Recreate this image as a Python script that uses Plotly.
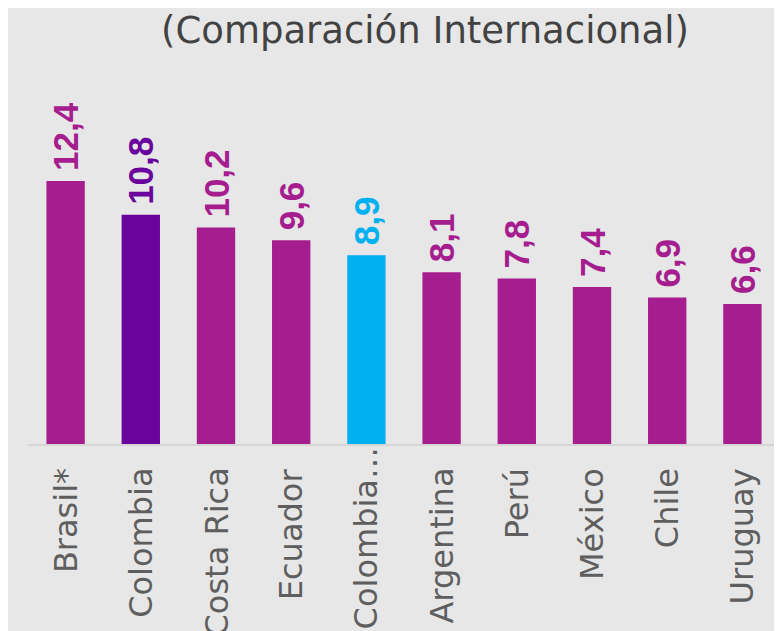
import plotly.graph_objects as go

categories = ["Brasil*", "Colombia", "Costa Rica", "Ecuador", "Colombia…",
              "Argentina", "Perú", "México", "Chile", "Uruguay"]
values = [12.4, 10.8, 10.2, 9.6, 8.9, 8.1, 7.8, 7.4, 6.9, 6.6]
labels = ["12,4", "10,8", "10,2", "9,6", "8,9", "8,1", "7,8", "7,4", "6,9", "6,6"]
title_text = "(Comparación Internacional)"

MAGENTA = "#A61D8F"
PURPLE = "#6A039C"
CYAN = "#00B0F0"
colors = [MAGENTA, PURPLE, MAGENTA, MAGENTA, CYAN, MAGENTA, MAGENTA, MAGENTA, MAGENTA, MAGENTA]

# page body has an 8px margin; compensate so the window layout matches
OFF = 8
W, H = 782, 631
L, T = 28 - OFF, 60 - OFF
B = H - (444 - OFF)
R = W - (780 - OFF)

fig = go.Figure()
fig.add_trace(go.Bar(
    x=categories, y=values,
    marker=dict(color=colors, line=dict(width=0)),
    text=labels, texttemplate="\u2009%{text}",
    textposition="outside", textangle=-90, constraintext="none",
    textfont=dict(family="Liberation Sans", size=35, color=colors, weight="bold"),
    cliponaxis=False, hoverinfo="skip",
))

fig.update_layout(
    width=W, height=H,
    margin=dict(l=L, r=R, t=T, b=B, autoexpand=False),
    paper_bgcolor="#E7E7E7", plot_bgcolor="rgba(0,0,0,0)",
    bargap=0.49, showlegend=False,
    xaxis=dict(
        showticklabels=False, showgrid=False, ticks="", automargin=False,
        showline=True, linecolor="#D6D6D6", linewidth=2,
    ),
    yaxis=dict(range=[0, 18.1], visible=False, showgrid=False, zeroline=False),
)

# category labels (rotated), drawn at each category position
for i, cat in enumerate(categories):
    long_label = cat.endswith("…")
    fig.add_annotation(
        text=cat, x=cat, y=0, xref="x", yref="y",
        xanchor="center", yanchor="top", textangle=-90,
        yshift=-1 if long_label else -22,
        showarrow=False,
        font=dict(family="DejaVu Sans", size=32, color="#5E5E5E"),
    )

plot_w = W - L - R
plot_h = H - T - B
fig.add_annotation(
    text=title_text, x=(425 - OFF - L) / plot_w, y=(H - (30 - OFF) - B) / plot_h,
    xref="paper", yref="paper", xanchor="center", yanchor="middle",
    showarrow=False,
    font=dict(family="DejaVu Sans", size=37, color="#424242"),
)

fig.write_html("out.html")
